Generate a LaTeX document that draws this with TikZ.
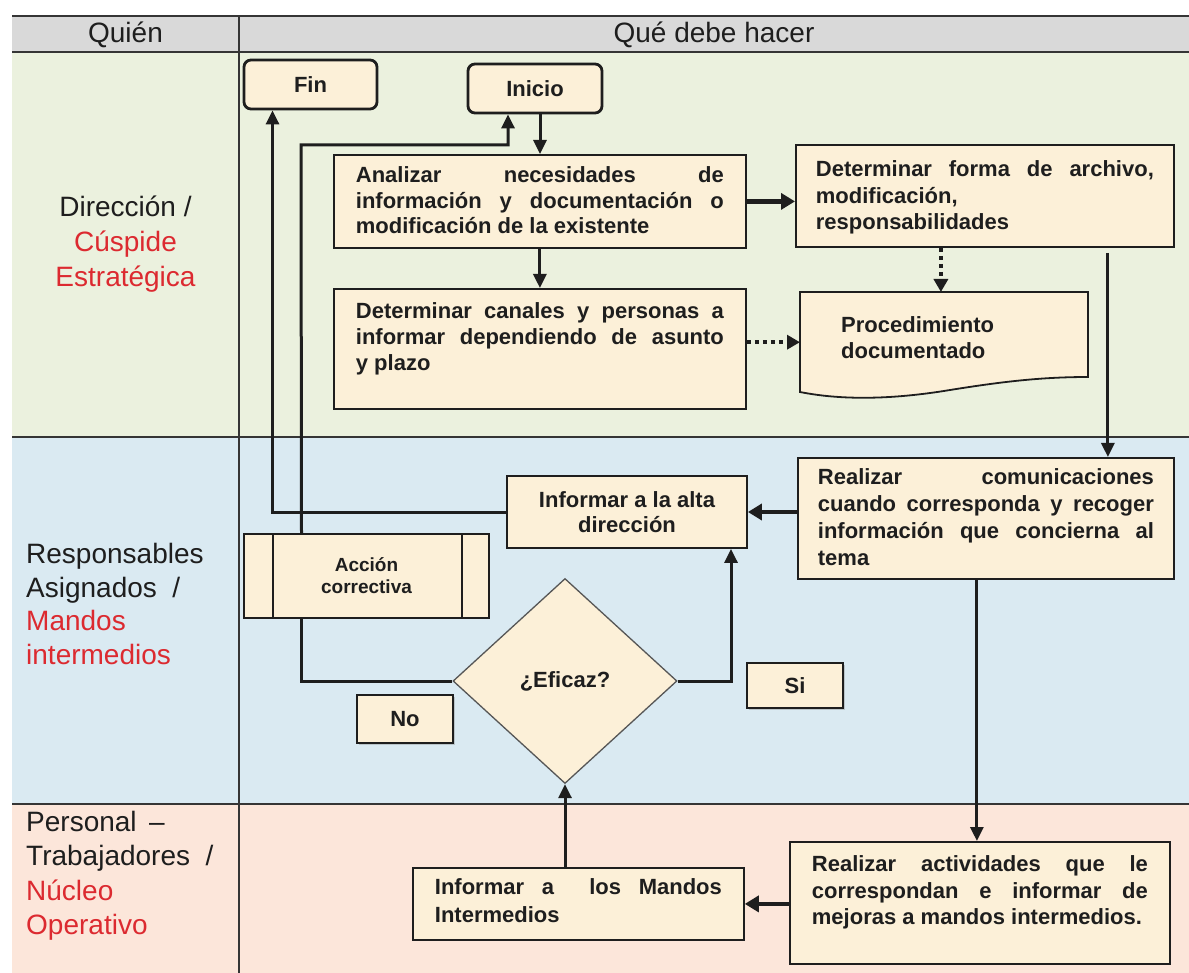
\documentclass[tikz,border=0pt]{standalone}
\usepackage{fontspec}
\setmainfont{Liberation Sans}
\usetikzlibrary{arrows.meta,shapes.geometric,shadows}
\definecolor{hdr}{HTML}{D9D9D9}
\definecolor{laneA}{HTML}{EBF1DE}
\definecolor{laneB}{HTML}{DAEAF2}
\definecolor{laneC}{HTML}{FCE6DA}
\definecolor{boxfill}{HTML}{FCF0D8}
\definecolor{lblred}{HTML}{DC2A30}
\definecolor{ink}{HTML}{1E1E1E}
\newcommand\bx[1]{\fontsize{22pt}{#1pt}\selectfont\bfseries}
\newcommand\lbl[1]{\fontsize{28pt}{#1pt}\selectfont}
\tikzset{
  laneline/.style={draw=ink!90, line width=1.8pt},
  box/.style={draw=ink, fill=boxfill, line width=1.8pt, rectangle, inner sep=0pt, text=ink},
  term/.style={box, rounded corners=7pt, line width=2.8pt, font=\bx{24}},
  tagbox/.style={box, font=\bx{24}, drop shadow={shadow xshift=2pt, shadow yshift=-2pt, opacity=0.35}},
  flow/.style={draw=ink, line width=3pt, -{Triangle[length=14pt,width=13pt]}},
  flowthick/.style={draw=ink, line width=4.5pt, -{Triangle[length=14pt,width=16pt]}},
  plainline/.style={draw=ink, line width=3pt},
  dotflow/.style={draw=ink, line width=4pt, dash pattern=on 4pt off 4pt, -{Triangle[length=13pt,width=14pt]}},
  lanelabel/.style={text=ink, inner sep=0pt},
}
\begin{document}
\begin{tikzpicture}[x=1pt,y=-1pt]
\useasboundingbox (0,0) rectangle (1189,973);
\fill[white] (0,0) rectangle (1189,973);
% lanes
\fill[hdr] (12,16) rectangle (1189,52);
\fill[laneA] (12,52) rectangle (1189,437);
\fill[laneB] (12,437) rectangle (1189,804);
\fill[laneC] (12,804) rectangle (1189,973);
\draw[laneline, line width=2.6pt] (12,16) -- (1189,16);
\draw[laneline] (12,52) -- (1189,52);
\draw[laneline] (12,437) -- (1189,437);
\draw[laneline] (12,804) -- (1189,804);
\draw[laneline] (239,16) -- (239,973);

% header and lane labels
\node[lanelabel, font=\lbl{33}] (quien) at (125.5,35) {Quién};
\node[lanelabel, font=\lbl{33}] (que) at (714,35) {Qué debe hacer};
\node[lanelabel, font=\lbl{35}, align=center] (laneone) at (125.5,244)
  {Dirección /\\ \textcolor{lblred}{Cúspide}\\ \textcolor{lblred}{Estratégica}};
\node[lanelabel, font=\lbl{33.5}, align=left, anchor=west] (lanetwo) at (26,604)
  {Responsables\\Asignados \ /\\ \textcolor{lblred}{Mandos}\\ \textcolor{lblred}{intermedios}};
\node[lanelabel, font=\lbl{34.5}, align=left, anchor=west] (lanethree) at (26,876)
  {Personal \,–\\Trabajadores \ /\\ \textcolor{lblred}{Núcleo}\\ \textcolor{lblred}{Operativo}};

% terminals
\node[term, minimum width=133pt, minimum height=49pt] (fin) at (310.5,84.5) {Fin};
\node[term, minimum width=134pt, minimum height=49pt] (inicio) at (535,88.5) {Inicio\hspace{30pt}};

% process boxes
\node[box, anchor=north west, inner xsep=22pt, inner ysep=12pt, font=\bx{25.5}] (analizar) at (333,154)
  {\parbox[c][69pt][t]{368pt}{Analizar\hfill necesidades\hfill de\\información\hfill y\hfill documentación\hfill o\\modificación de la existente}};
\node[box, anchor=north west, inner xsep=20pt, inner ysep=16pt, font=\bx{26.5}] (detforma) at (795,144)
  {\parbox[c][70pt][t]{338pt}{Determinar\hfill forma\hfill de\hfill archivo,\\modificación,\\responsabilidades}};
\node[box, anchor=north west, inner xsep=22pt, inner ysep=14pt, font=\bx{26}] (canales) at (333,288)
  {\parbox[c][92pt][t]{368pt}{Determinar\hfill canales\hfill y\hfill personas\hfill a\\informar\hfill dependiendo\hfill de\hfill asunto\\y plazo}};

% document shape
\draw[draw=ink, fill=boxfill, line width=1.8pt] (800,292) -- (1088,292) -- (1088,377)
  .. controls (1040,377) and (1000,382) .. (950,390)
  .. controls (890,400) and (840,400) .. (800,392) -- cycle;
\node[anchor=north west, inner xsep=41pt, inner ysep=24pt, font=\bx{26}, text=ink] (doc) at (800,292)
  {\parbox[c][52pt][t]{206pt}{Procedimiento\\documentado}};

\node[box, anchor=north west, inner xsep=20pt, inner ysep=11pt, font=\bx{27}] (comunic) at (797,457)
  {\parbox[c][99pt][t]{336pt}{Realizar\hfill comunicaciones\\cuando\hfill corresponda\hfill y\hfill recoger\\información\hfill que\hfill concierna\hfill al\\tema}};
\node[box, minimum width=240pt, minimum height=72pt, align=center, font=\bx{25}] (informar) at (627,512)
  {Informar a la alta\\dirección};
\node[box, minimum width=245pt, minimum height=84pt, align=center, font={\fontsize{19pt}{22pt}\selectfont\bfseries}] (accion) at (366.5,576)
  {\raisebox{-6pt}{\parbox{120pt}{\centering Acción\\correctiva}}};
\draw[draw=ink, line width=1.8pt] ([xshift=30pt]accion.north west) -- ([xshift=30pt]accion.south west);
\draw[draw=ink, line width=1.8pt] ([xshift=-28pt]accion.north east) -- ([xshift=-28pt]accion.south east);

\node[diamond, draw=ink!75, fill=boxfill, line width=1.3pt, minimum width=224pt, minimum height=205pt, inner sep=0pt, font=\bx{26}, text=ink] (eficaz) at (565,681) {¿Eficaz?};
\node[tagbox, minimum width=96pt, minimum height=45pt] (si) at (795,685.5) {Si};
\node[tagbox, minimum width=96pt, minimum height=48pt] (no) at (405,719) {No};

\node[box, anchor=north west, inner xsep=22pt, inner ysep=14pt, font=\bx{26.5}] (activ) at (789,841)
  {\parbox[c][94pt][t]{336pt}{Realizar\hfill actividades\hfill que\hfill le\\correspondan\hfill e\hfill informar\hfill de\\mejoras a mandos intermedios.}};
\node[box, anchor=north west, inner xsep=22pt, inner ysep=11pt, font=\bx{28}] (mandos) at (412,867)
  {\parbox[c][50pt][t]{287pt}{Informar\hfill a\hfill\hfill los\hfill Mandos\\Intermedios}};

% connectors
\coordinate (ret) at (301,145);
\draw[flow] ([xshift=5pt]inicio.south) -- ([xshift=5pt]inicio.south |- analizar.north);
\draw[flowthick] (analizar.east) -- (analizar.east -| detforma.west);
\draw[flow] (analizar.south) -- (analizar.south |- canales.north);
\draw[dotflow] ([xshift=-44pt]detforma.south) -- ([xshift=-44pt]detforma.south |- doc.north);
\draw[dotflow] (canales.east |- doc.west) -- (doc.west);
\draw[flow, shorten <=5pt] ([xshift=123pt]detforma.south) -- ([xshift=123pt]detforma.south |- comunic.north);
\draw[flowthick] (comunic.west |- informar.east) -- (informar.east);
\draw[flow] ([xshift=-9pt]comunic.south) -- ([xshift=-9pt]comunic.south |- activ.north);
\draw[flowthick] (activ.west |- mandos.east) -- (mandos.east);
\draw[flow] (eficaz.south |- mandos.north) -- (eficaz.south);
\draw[flow] (eficaz.east) -| ([xshift=104pt]informar.south);
\draw[flow] (informar.west) -| ([xshift=-38pt]fin.south);
\draw[plainline] (eficaz.west) -| ([xshift=-65pt]accion.south);
\draw[flow] ([xshift=-65pt]accion.north) -- (ret) -| ([xshift=-27pt]inicio.south);
\end{tikzpicture}
\end{document}
